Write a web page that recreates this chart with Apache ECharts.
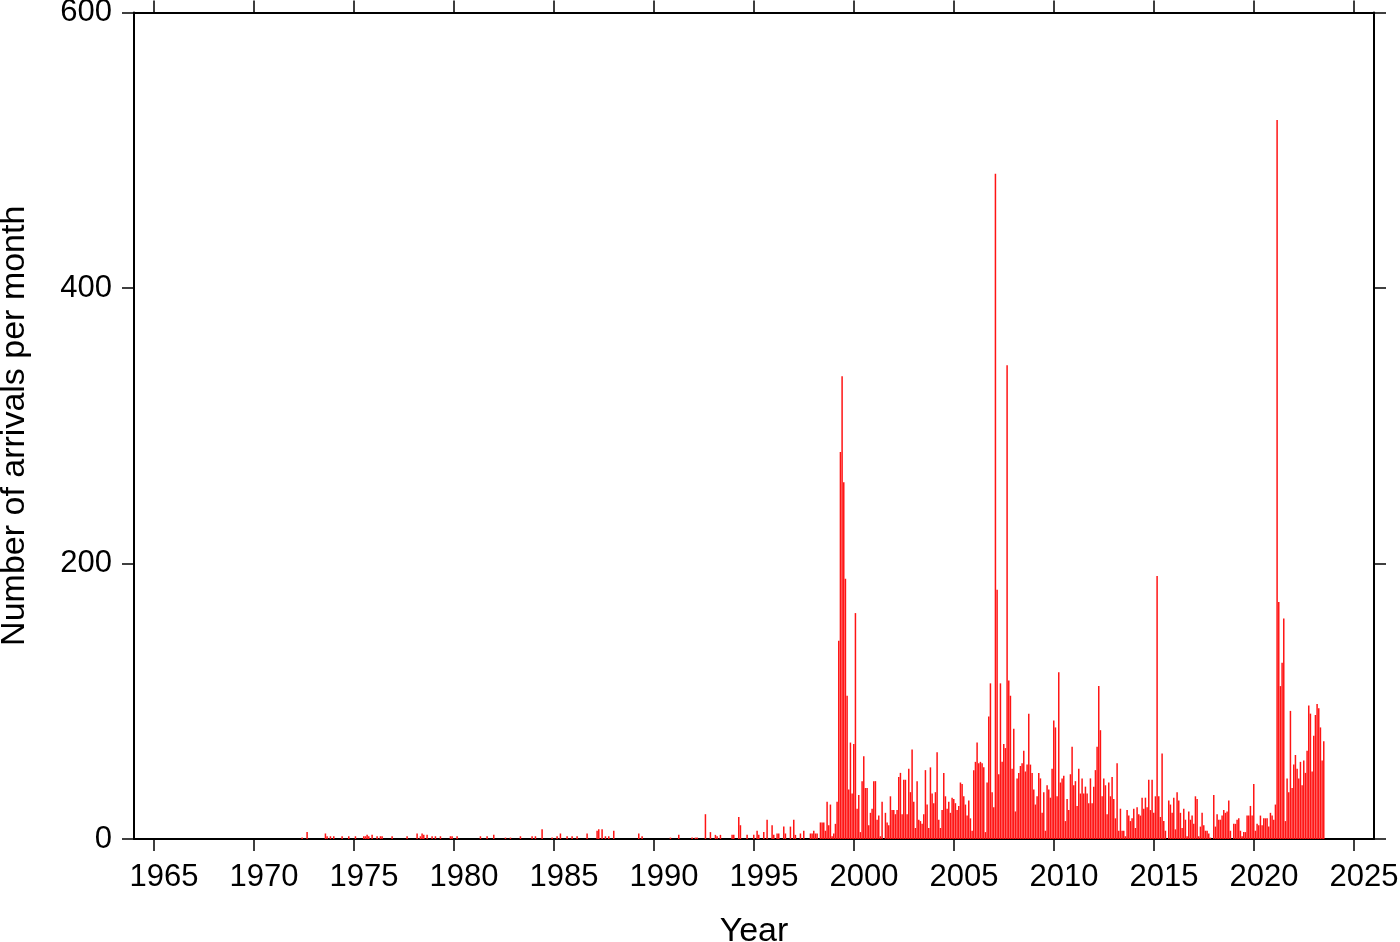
<!DOCTYPE html>
<html>
<head>
<meta charset="utf-8">
<script src="https://cdn.jsdelivr.net/npm/echarts@6/dist/echarts.min.js"></script>
<style>
html,body{margin:0;padding:0;background:#fff;}
#chart{width:1400px;height:942px;}
</style>
</head>
<body>
<div id="chart"></div>
<script>
// Monthly arrival counts, January..December of each year
const arrivals1970s = [
  0,0,0,0,0,0,0,0,0,0,0,0,   // 1970
  0,0,0,0,0,0,0,0,0,0,0,0,   // 1971
  0,0,0,0,1,0,0,5,0,0,0,0,   // 1972
  0,0,0,0,0,0,4,2,0,2,0,2,   // 1973
  0,0,0,0,2,0,0,0,2,0,0,0,   // 1974
  2,0,0,0,0,2,2,3,2,0,3,0,   // 1975
  0,2,0,2,2,0,0,0,0,0,2,0,   // 1976
  0,0,0,0,0,0,0,2,0,0,0,0,   // 1977
  0,4,0,2,4,3,0,3,0,0,2,0,   // 1978
  2,0,0,2,0,0,0,0,0,2,2,0    // 1979
];
const arrivals1980s = [
  0,2,0,0,0,0,0,0,0,0,0,0,   // 1980
  0,0,0,2,0,0,0,2,0,0,0,3,   // 1981
  0,0,0,0,0,0,1,0,0,1,0,0,   // 1982
  0,0,0,2,0,0,0,0,0,0,2,0,   // 1983
  2,0,0,0,7,0,0,0,0,0,1,0,   // 1984
  0,2,0,4,0,0,0,2,0,0,2,0,   // 1985
  0,2,0,0,0,0,0,4,0,0,0,0,   // 1986
  0,6,7,0,7,0,2,0,2,0,0,6,   // 1987
  0,0,0,0,0,0,0,0,0,0,0,0,   // 1988
  0,0,4,0,2,0,0,0,0,0,0,0    // 1989
];
const arrivals1990s = [
  0,0,0,0,0,0,0,0,0,1,0,0,   // 1990
  0,0,3,0,0,0,0,0,0,0,1,0,   // 1991
  1,1,0,0,0,0,18,0,0,5,0,0,  // 1992
  3,2,0,3,0,0,0,0,0,0,3,3,   // 1993
  0,0,16,10,0,0,0,3,0,0,0,3, // 1994
  0,6,3,0,0,5,0,14,0,0,10,3, // 1995
  0,4,4,0,0,9,4,0,0,9,0,14,  // 1996
  3,0,0,4,0,6,0,0,0,4,4,6,   // 1997
  4,4,0,12,12,12,6,27,10,25,2,4,          // 1998
  11,27,144,281,336,259,189,104,36,70,33,69 // 1999
];
const arrivals2000s = [
  164,22,32,5,42,60,37,37,10,19,22,42,    // 2000
  42,14,17,2,27,0,19,12,10,31,21,21,      // 2001
  18,21,45,48,18,43,43,18,51,34,65,27,    // 2002
  8,42,14,13,11,18,50,25,8,52,33,26,      // 2003
  34,63,14,8,21,48,31,22,27,19,30,29,     // 2004
  26,21,24,41,40,31,25,17,28,15,6,50,     // 2005
  56,70,55,56,55,52,5,41,89,113,34,23,    // 2006
  483,181,47,113,56,69,66,344,115,104,51,80, // 2007
  20,44,48,53,55,64,49,54,91,54,48,36,    // 2008
  25,31,48,44,19,34,6,39,36,30,51,86      // 2009
];
const arrivals2010s = [
  81,31,121,41,44,46,13,29,21,47,67,39,   // 2010
  42,24,51,33,44,33,38,33,26,44,26,38,    // 2011
  50,67,111,79,31,44,39,18,41,31,45,29,   // 2012
  15,55,6,22,6,6,2,21,17,13,15,22,        // 2013
  8,23,18,17,30,22,30,23,43,21,43,19,     // 2014
  31,191,31,16,62,13,6,0,28,25,19,30,     // 2015
  7,34,28,19,8,22,14,2,20,14,17,11,       // 2016
  31,29,2,9,19,10,6,6,4,1,0,32,           // 2017
  9,18,14,14,17,21,19,20,28,6,0,11,       // 2018
  11,14,15,6,2,5,5,17,17,24,17,40         // 2019
];
const arrivals2020s = [
  6,11,10,17,10,15,15,15,9,19,17,14,      // 2020
  25,522,172,111,128,160,13,44,34,93,37,54, // 2021
  61,51,44,56,39,57,48,64,97,91,49,75,    // 2022
  90,98,95,81,57,71                       // 2023
];
const decadeStarts = [1970, 1980, 1990, 2000, 2010, 2020];
const decadeData = [arrivals1970s, arrivals1980s, arrivals1990s, arrivals2000s, arrivals2010s, arrivals2020s];

const xTickYears = [1965,1970,1975,1980,1985,1990,1995,2000,2005,2010,2015,2020,2025];
const yTicks = [0,200,400,600];

const barData = [];
decadeData.forEach(function (arr, d) {
  arr.forEach(function (v, i) {
    const yr = decadeStarts[d] + Math.floor(i / 12);
    const m = i % 12;
    barData.push([yr + (m + 0.5) / 12 + 0.03, v]);
  });
});

const FONT = 'Liberation Sans, Arial, Helvetica, sans-serif';
const chart = echarts.init(document.getElementById('chart'), null, {renderer: 'canvas'});
const axisLine = {show: true, onZero: false, lineStyle: {color: '#000', width: 2}};
const tickStyle = {color: '#000', width: 1.5};

chart.setOption({
  animation: false,
  backgroundColor: '#fff',
  grid: {left: 134, right: 26, top: 12.5, bottom: 103, containLabel: false, outerBoundsMode: 'none'},
  xAxis: [
    {
      type: 'value', position: 'bottom', min: 1964, max: 2026,
      axisLine: axisLine,
      axisTick: {show: true, inside: false, length: 12, customValues: xTickYears, lineStyle: tickStyle},
      axisLabel: {show: true, customValues: xTickYears, fontSize: 31, color: '#000', fontFamily: FONT,
        margin: 23, padding: [0, 0, 0, 20],
        formatter: function (v) { return String(v); }},
      splitLine: {show: false},
      name: 'Year', nameLocation: 'middle', nameGap: 76,
      nameTextStyle: {fontSize: 34, color: '#000', fontFamily: FONT}
    },
    {
      type: 'value', position: 'top', min: 1964, max: 2026,
      axisLine: axisLine,
      axisTick: {show: true, inside: false, length: 12, customValues: xTickYears, lineStyle: tickStyle},
      axisLabel: {show: false},
      splitLine: {show: false}
    }
  ],
  yAxis: [
    {
      type: 'value', position: 'left', min: 0, max: 600, interval: 200,
      axisLine: axisLine,
      axisTick: {show: true, inside: false, length: 12, lineStyle: tickStyle},
      axisLabel: {show: true, fontSize: 31, color: '#000', fontFamily: FONT, margin: 22,
        formatter: function (v) { return yTicks.indexOf(v) >= 0 ? String(v) : ''; }},
      splitLine: {show: false},
      name: 'Number of arrivals per month', nameLocation: 'middle', nameGap: 102, nameRotate: 90,
      nameTextStyle: {fontSize: 34, color: '#000', fontFamily: FONT}
    },
    {
      type: 'value', position: 'right', min: 0, max: 600, interval: 200,
      axisLine: axisLine,
      axisTick: {show: true, inside: false, length: 12, lineStyle: tickStyle},
      axisLabel: {show: false},
      splitLine: {show: false}
    }
  ],
  series: [
    {
      type: 'bar', xAxisIndex: 0, yAxisIndex: 0,
      data: barData,
      barWidth: 1.5,
      itemStyle: {color: '#ff1414'},
      emphasis: {disabled: true}
    }
  ]
});
</script>
</body>
</html>
